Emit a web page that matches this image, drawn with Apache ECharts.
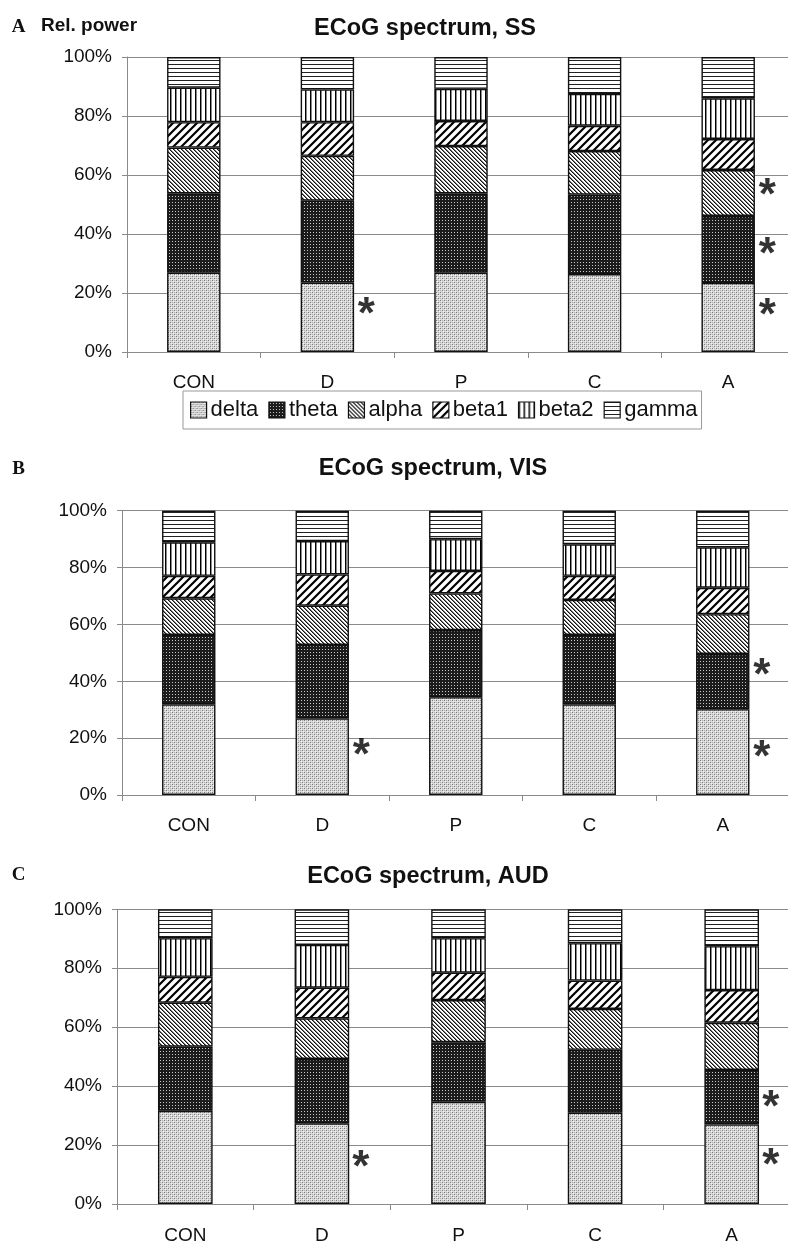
<!DOCTYPE html>
<html>
<head>
<meta charset="utf-8">
<title>ECoG spectrum</title>
<script src="https://cdn.jsdelivr.net/npm/echarts@6/dist/echarts.min.js"></script>
<style>
  html, body { margin: 0; padding: 0; background: #fff; }
  #chart { width: 788px; height: 1241px; }
</style>
</head>
<body>
<div id="chart"></div>
<script>
// Groups on the x axis
const categories = ['CON', 'D', 'P', 'C', 'A'];
const bands = ['delta', 'theta', 'alpha', 'beta1', 'beta2', 'gamma'];
const yTicks = [0, 20, 40, 60, 80, 100];

// Relative power (%) per band, somatosensory cortex (SS)
const ssDelta = [26.9, 23.5, 26.9, 26.4, 23.4];
const ssTheta = [26.9, 27.8, 26.9, 26.9, 22.7];
const ssAlpha = [15.5, 15.2, 16.0, 14.8, 15.6];
const ssBeta1 = [8.6, 11.4, 8.5, 8.6, 10.5];
const ssBeta2 = [11.7, 11.1, 10.9, 10.8, 13.8];
const ssGamma = [10.4, 11.0, 10.8, 12.5, 14.0];

// Visual cortex (VIS)
const visDelta = [31.9, 27.0, 34.4, 31.9, 30.2];
const visTheta = [24.4, 25.8, 23.6, 24.4, 19.4];
const visAlpha = [12.9, 13.8, 12.9, 12.3, 14.0];
const visBeta1 = [7.9, 11.0, 7.9, 8.5, 9.3];
const visBeta2 = [11.8, 11.7, 11.2, 11.1, 14.2];
const visGamma = [11.1, 10.7, 10.0, 11.8, 12.9];

// Auditory cortex (AUD)
const audDelta = [31.6, 27.4, 34.7, 31.0, 27.0];
const audTheta = [21.8, 21.8, 20.2, 21.3, 18.5];
const audAlpha = [14.9, 13.8, 14.3, 13.9, 16.0];
const audBeta1 = [8.8, 10.4, 9.3, 9.6, 11.1];
const audBeta2 = [13.1, 14.5, 11.7, 12.7, 14.9];
const audGamma = [9.8, 12.1, 9.8, 11.5, 12.5];

// Significance marks: [group, height in %]
const ssStars = [['D', 15.3], ['A', 55.6], ['A', 35.6], ['A', 14.9]];
const visStars = [['D', 16.5], ['A', 44.7], ['A', 15.8]];
const audStars = [['D', 14.9], ['A', 35.3], ['A', 15.6]];

const panels = [
  { title: 'ECoG spectrum, SS', letter: 'A', data: [ssDelta, ssTheta, ssAlpha, ssBeta1, ssBeta2, ssGamma], stars: ssStars },
  { title: 'ECoG spectrum, VIS', letter: 'B', data: [visDelta, visTheta, visAlpha, visBeta1, visBeta2, visGamma], stars: visStars },
  { title: 'ECoG spectrum, AUD', letter: 'C', data: [audDelta, audTheta, audAlpha, audBeta1, audBeta2, audGamma], stars: audStars }
];

// Hatch / stipple fills
function pattern(w, h, draw) {
  const c = document.createElement('canvas');
  c.width = w; c.height = h;
  const ctx = c.getContext('2d');
  draw(ctx, w, h);
  return { image: c, repeat: 'repeat' };
}
function px(ctx, x, y, col) { ctx.fillStyle = col; ctx.fillRect(x, y, 1, 1); }

const fills = {
  delta: pattern(4, 4, (ctx, w, h) => {
    ctx.fillStyle = '#dadada'; ctx.fillRect(0, 0, w, h);
    px(ctx, 0, 0, '#7a7a7a'); px(ctx, 2, 2, '#7a7a7a');
    px(ctx, 1, 1, '#f4f4f4'); px(ctx, 3, 3, '#f4f4f4');
    px(ctx, 0, 2, '#b0b0b0'); px(ctx, 2, 0, '#b0b0b0');
  }),
  theta: pattern(3, 3, (ctx, w, h) => {
    ctx.fillStyle = '#1c1c1c'; ctx.fillRect(0, 0, w, h);
    px(ctx, 1, 1, '#c8c8c8');
  }),
  alpha: pattern(4, 4, (ctx, w, h) => {
    ctx.fillStyle = '#ffffff'; ctx.fillRect(0, 0, w, h);
    for (let i = 0; i < 4; i++) {
      px(ctx, i, i, '#111');
      px(ctx, (i + 1) % 4, i, '#777');
    }
  }),
  beta1: pattern(8, 8, (ctx, w, h) => {
    ctx.fillStyle = '#ffffff'; ctx.fillRect(0, 0, w, h);
    ctx.strokeStyle = '#000'; ctx.lineWidth = 2.2;
    ctx.beginPath();
    ctx.moveTo(-1, 9); ctx.lineTo(9, -1);
    ctx.moveTo(-5, 5); ctx.lineTo(5, -5);
    ctx.moveTo(3, 13); ctx.lineTo(13, 3);
    ctx.stroke();
  }),
  beta2: pattern(5, 1, (ctx, w, h) => {
    ctx.fillStyle = '#ffffff'; ctx.fillRect(0, 0, w, h);
    px(ctx, 0, 0, '#000'); px(ctx, 1, 0, '#888');
  }),
  gamma: pattern(1, 4, (ctx, w, h) => {
    ctx.fillStyle = '#ffffff'; ctx.fillRect(0, 0, w, h);
    px(ctx, 0, 0, '#222');
  })
};

// Plot rectangles of the three panels (the last category band runs past the right edge)
const grids = [
  { left: 127, top: 57, width: 668, height: 295 },
  { left: 122, top: 510.7, width: 667.5, height: 284.3 },
  { left: 117, top: 909.3, width: 683, height: 294.7 }
].map(g => Object.assign({ containLabel: false, outerBoundsMode: 'none' }, g));
const labelMargins = [21, 21, 22];

const FONT = 'Liberation Sans, Arial, Helvetica, sans-serif';
const grey = '#8a8a8a';

const xAxes = [], yAxes = [], series = [];
panels.forEach((p, gi) => {
  xAxes.push({
    type: 'category', gridIndex: gi, data: categories,
    axisLine: { show: true, lineStyle: { color: grey, width: 1 } },
    axisTick: { show: true, length: 6, lineStyle: { color: grey } },
    axisLabel: { color: '#111', fontSize: 19, fontFamily: FONT, margin: labelMargins[gi] },
    splitLine: { show: false }
  });
  yAxes.push({
    type: 'value', gridIndex: gi, min: 0, max: 100, interval: 20,
    axisLine: { show: true, lineStyle: { color: grey, width: 1 } },
    axisTick: { show: true, length: 5, lineStyle: { color: grey } },
    axisLabel: { color: '#111', fontSize: 19, fontFamily: FONT, margin: 15,
      formatter: v => yTicks.includes(v) ? v + '%' : '' },
    splitLine: { show: true, lineStyle: { color: grey, width: 1 } }
  });
  bands.forEach((b, bi) => {
    series.push({
      type: 'bar', name: b, stack: 'p' + gi,
      xAxisIndex: gi, yAxisIndex: gi,
      barWidth: '40%',
      data: p.data[bi],
      itemStyle: { color: fills[b], borderColor: '#111', borderWidth: 1.4 },
      emphasis: { disabled: true },
      silent: true
    });
  });
  series.push({
    type: 'scatter', name: 'sig' + gi,
    xAxisIndex: gi, yAxisIndex: gi,
    data: p.stars, symbolSize: 1,
    itemStyle: { color: 'rgba(0,0,0,0)' },
    label: { show: true, formatter: '*', position: 'inside', offset: [39, 9],
      fontSize: 44, fontWeight: 'bold', fontFamily: FONT, color: '#000' },
    silent: true, z: 5
  });
});

const titlePos = [[425, 29], [433, 469], [428, 877]];
const letterY = [27, 469.5, 875.5];
const graphic = [];
panels.forEach((p, gi) => {
  graphic.push({
    type: 'text', x: titlePos[gi][0], y: titlePos[gi][1],
    style: { text: p.title, fill: '#111', font: 'bold 23.5px ' + FONT,
      align: 'center', verticalAlign: 'middle', textAlign: 'center', textVerticalAlign: 'middle' }
  });
  graphic.push({
    type: 'text', x: 18.5, y: letterY[gi],
    style: { text: p.letter, fill: '#111', font: 'bold 19px Liberation Serif, Times New Roman, serif',
      align: 'center', verticalAlign: 'middle', textAlign: 'center', textVerticalAlign: 'middle' }
  });
});
graphic.push({
  type: 'text', x: 41, y: 26,
  style: { text: 'Rel. power', fill: '#111', font: 'bold 19px ' + FONT,
    align: 'left', verticalAlign: 'middle', textAlign: 'left', textVerticalAlign: 'middle' }
});

const chart = echarts.init(document.getElementById('chart'), null, { renderer: 'canvas' });
chart.setOption({
  animation: false,
  backgroundColor: '#fff',
  grid: grids,
  xAxis: xAxes,
  yAxis: yAxes,
  legend: {
    data: bands,
    left: 183, top: 391,
    orient: 'horizontal',
    icon: 'rect',
    itemWidth: 16, itemHeight: 16, itemGap: 10,
    padding: [8, 4, 8, 7],
    borderColor: '#999', borderWidth: 1,
    itemStyle: { borderColor: '#111', borderWidth: 1.2 },
    textStyle: { color: '#111', fontSize: 22, fontFamily: FONT, padding: [0, 0, 0, -1] },
    selectedMode: false
  },
  series: series,
  graphic: graphic
});
</script>
</body>
</html>
